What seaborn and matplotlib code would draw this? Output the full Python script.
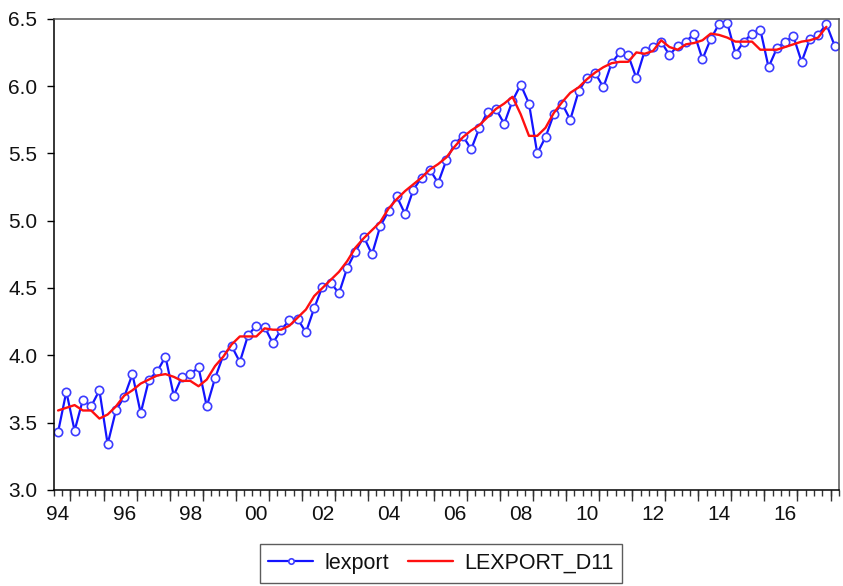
import numpy as np
import pandas as pd
import seaborn as sns
import matplotlib
matplotlib.use("Agg")
import matplotlib.pyplot as plt

# ---- data (quarterly, 1994Q1 - 2017Q3) ----
lexport = [3.43, 3.73, 3.44, 3.67, 3.62, 3.74, 3.34, 3.59, 3.69, 3.86,
           3.57, 3.82, 3.88, 3.99, 3.70, 3.84, 3.86, 3.91, 3.62, 3.83,
           4.00, 4.07, 3.95, 4.15, 4.22, 4.21, 4.09, 4.19, 4.26, 4.27,
           4.17, 4.35, 4.51, 4.54, 4.46, 4.65, 4.77, 4.88, 4.75, 4.96,
           5.07, 5.18, 5.05, 5.23, 5.32, 5.38, 5.28, 5.45, 5.57, 5.63,
           5.53, 5.69, 5.81, 5.83, 5.72, 5.89, 6.01, 5.87, 5.50, 5.62,
           5.79, 5.87, 5.75, 5.96, 6.06, 6.10, 5.99, 6.17, 6.25, 6.23,
           6.06, 6.26, 6.29, 6.33, 6.23, 6.30, 6.33, 6.39, 6.20, 6.35,
           6.46, 6.47, 6.24, 6.33, 6.39, 6.42, 6.14, 6.28, 6.33, 6.37,
           6.18, 6.35, 6.38, 6.46, 6.30]
lexport_d11 = [3.59, 3.61, 3.63, 3.59, 3.59, 3.53, 3.56, 3.62, 3.70, 3.74,
               3.79, 3.82, 3.85, 3.86, 3.84, 3.81, 3.81, 3.77, 3.82, 3.92,
               3.99, 4.08, 4.14, 4.14, 4.14, 4.20, 4.19, 4.19, 4.22, 4.28,
               4.34, 4.44, 4.50, 4.56, 4.62, 4.70, 4.80, 4.87, 4.93, 4.99,
               5.09, 5.16, 5.22, 5.27, 5.32, 5.38, 5.42, 5.47, 5.55, 5.62,
               5.67, 5.71, 5.77, 5.83, 5.87, 5.92, 5.79, 5.63, 5.63, 5.69,
               5.80, 5.88, 5.95, 5.99, 6.05, 6.10, 6.14, 6.17, 6.18, 6.18,
               6.25, 6.24, 6.26, 6.34, 6.29, 6.27, 6.31, 6.32, 6.34, 6.39,
               6.38, 6.36, 6.33, 6.33, 6.33, 6.27, 6.27, 6.27, 6.29, 6.31,
               6.33, 6.34, 6.36, 6.44, np.nan]
year_labels = ["94", "96", "98", "00", "02", "04", "06", "08", "10", "12", "14", "16"]
y_ticks = [3.0, 3.5, 4.0, 4.5, 5.0, 5.5, 6.0, 6.5]

n = len(lexport)
df = pd.DataFrame({"t": np.arange(n), "lexport": lexport, "LEXPORT_D11": lexport_d11})

sns.set_theme(style="white")
plt.rcParams["font.family"] = ["Liberation Sans", "DejaVu Sans"]
plt.rcParams["text.color"] = "#111111"
plt.rcParams["xtick.color"] = "#111111"
plt.rcParams["ytick.color"] = "#111111"

fig = plt.figure(figsize=(8.43, 5.86), dpi=100)
ax = fig.add_axes([0.064, 0.164, 0.931, 0.804])

sns.lineplot(data=df, x="t", y="lexport", ax=ax, color="#1414ff", linewidth=1.6,
             marker="o", markersize=6, markerfacecolor="white",
             markeredgecolor="#3c3cff", markeredgewidth=1.2, label="lexport")
sns.lineplot(data=df, x="t", y="LEXPORT_D11", ax=ax, color="#ff1010",
             linewidth=1.7, label="LEXPORT_D11")

ax.set_xlim(-0.5, n - 0.5)
ax.set_ylim(3.0, 6.5)
ax.set_xlabel("")
ax.set_ylabel("")

# y axis
ax.set_yticks(y_ticks)
ax.set_yticklabels([f"{v:.1f}" for v in y_ticks])
ax.tick_params(axis="y", direction="out", length=5, width=1, color="black",
               labelsize=15, pad=7, left=True, labelcolor="#111111")

# x axis: labels every 2 years (no tick), minor ticks each quarter
label_pos = np.arange(0, n, 8)[:len(year_labels)]
ax.set_xticks(label_pos)
ax.set_xticklabels(year_labels)
ax.set_xticks(np.arange(-0.5, n, 1.0), minor=True)
ax.tick_params(axis="x", which="major", length=0, labelsize=15, pad=11,
               labelcolor="#111111")
ax.tick_params(axis="x", which="minor", direction="out", length=4, width=1,
               color="#333333", bottom=True)
sec = ax.secondary_xaxis("bottom")
sec.set_xticks(np.arange(1.5, n, 4.0))
sec.set_xticklabels([])
sec.tick_params(direction="out", length=8, width=1, color="#333333")
for s in sec.spines.values():
    s.set_visible(False)

for side in ["left", "bottom"]:
    ax.spines[side].set_color("black")
    ax.spines[side].set_linewidth(1.1)
for side in ["top", "right"]:
    ax.spines[side].set_color("#555555")
    ax.spines[side].set_linewidth(1.1)

ax.legend_.remove()
h, l = ax.get_legend_handles_labels()
leg = fig.legend(h, l, loc="center", bbox_to_anchor=(0.523, 0.0385), ncol=2,
                 fontsize=15.5, frameon=True, fancybox=False, handlelength=2.1,
                 handletextpad=0.5, columnspacing=0.9, borderpad=0.4,
                 markerscale=0.65)
leg.get_frame().set_edgecolor("#333333")
leg.get_frame().set_linewidth(1.0)

fig.savefig("out.png", dpi=100)
